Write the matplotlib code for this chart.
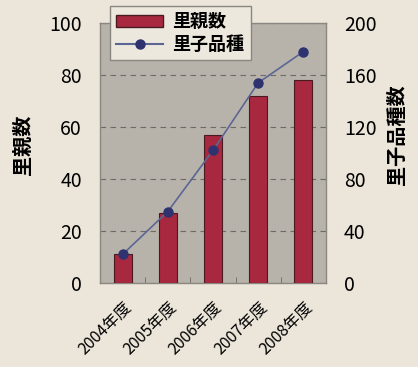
import numpy as np
import matplotlib.pyplot as plt
from matplotlib.lines import Line2D
from matplotlib.patches import Patch

plt.rcParams['font.family'] = ['Noto Sans CJK JP', 'DejaVu Sans']

# データ
nendo = ['2004年度', '2005年度', '2006年度', '2007年度', '2008年度']
satooya = [11, 27, 57, 72, 78]
satogo_hinshu = [22, 55, 102, 154, 178]

fig = plt.figure(figsize=(4.18, 3.67), dpi=100, facecolor='#ece6da')
ax = fig.add_axes([100 / 418, 1 - 283 / 367, 226 / 418, 260 / 367])
ax.set_facecolor('#b7b3ab')

x = np.arange(len(nendo))
ax.bar(x, satooya, width=0.4, color='#a8283f', edgecolor='#4a1a22', linewidth=0.8, zorder=3)
ax.set_xlim(-0.5, len(nendo) - 0.5)
ax.set_ylim(0, 100)
ax.set_yticks(np.arange(0, 101, 20))
ax.yaxis.grid(True, linestyle=(0, (5, 4)), color='#6e6a64', linewidth=0.8, zorder=1)
ax.set_xticks(x)
ax.set_xticklabels(nendo, rotation=45, ha='right', va='top', rotation_mode='anchor', fontsize=11.5)
ax.tick_params(axis='x', length=0, pad=11)
ax.set_xticks(np.arange(-0.5, len(nendo)), minor=True)
ax.tick_params(axis='x', which='minor', direction='in', length=4, color='#6e6a64')
ax.tick_params(axis='y', length=0, labelsize=14, pad=13)
ax.set_ylabel('里親数', fontsize=14.5, fontweight='bold')
ax.yaxis.set_label_coords(-0.295, 0.53)
for s in ax.spines.values():
    s.set_color('#8a8680')
    s.set_linewidth(1.0)

ax2 = ax.twinx()
ax2.plot(x, satogo_hinshu, color='#5b6694', linewidth=1.2, marker='o', markersize=6.5,
         markerfacecolor='#2e3370', markeredgecolor='#2e3370', zorder=4)
ax2.set_ylim(0, 200)
ax2.set_yticks(np.arange(0, 201, 40))
ax2.tick_params(axis='y', length=0, labelsize=14, pad=13)
ax2.set_ylabel('里子品種数', fontsize=14.5, fontweight='bold', rotation=90)
ax2.yaxis.set_label_coords(1.265, 0.57)
for s in ax2.spines.values():
    s.set_visible(False)

handles = [Patch(facecolor='#a8283f', edgecolor='#4a1a22'),
           Line2D([], [], color='#5b6694', marker='o', markerfacecolor='#2e3370',
                  markeredgecolor='#2e3370', markersize=6.5)]
leg = fig.legend(handles, ['里親数', '里子品種'], loc='upper left',
                 bbox_to_anchor=(110 / 418, 1 - 6 / 367), frameon=True, borderaxespad=0,
                 prop={'size': 13, 'weight': 'bold'},
                 fancybox=False, edgecolor='#8a8680', facecolor='#ece8de', framealpha=1,
                 handlelength=2.6, borderpad=0.35, labelspacing=0.2, handletextpad=0.5)
leg.get_frame().set_linewidth(1.0)

fig.savefig('out.png', dpi=100, facecolor=fig.get_facecolor())
